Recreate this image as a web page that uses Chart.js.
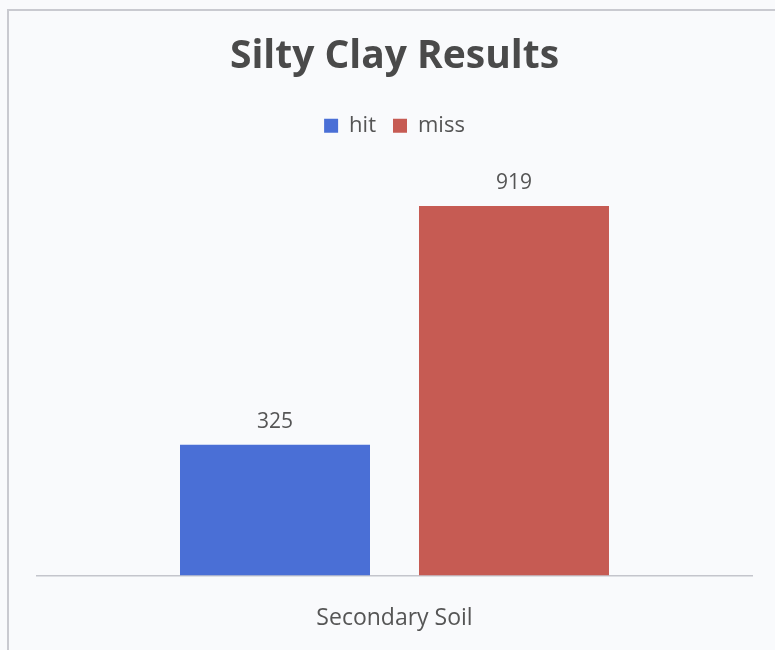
<!DOCTYPE html>
<html>
<head>
<meta charset="utf-8">
<script src="https://cdn.jsdelivr.net/npm/chart.js@4/dist/chart.umd.min.js"></script>
<style>
  html, body { margin: 0; padding: 0; background: #f9fafc; }
  #wrap { position: relative; width: 775px; height: 650px; overflow: hidden; }
  #frame { position: absolute; left: 7px; top: 9px; width: 800px; height: 700px;
           border: 2px solid #c9cad0; box-sizing: border-box; }
  canvas { position: absolute; left: 0; top: 0; }
</style>
</head>
<body>
<div id="wrap">
  <div id="frame"></div>
  <canvas id="c" width="775" height="650"></canvas>
</div>
<script>
const categories = ['Secondary Soil'];
const seriesNames = ['hit', 'miss'];
const hitValues = [325];
const missValues = [919];

const FONT = '"Open Sans", Lato, sans-serif';

// Writes each bar's value just above its top edge
const valueLabels = {
  id: 'valueLabels',
  afterDatasetsDraw(chart) {
    const ctx = chart.ctx;
    ctx.save();
    ctx.font = '21px ' + FONT;
    ctx.fillStyle = '#555555';
    ctx.textAlign = 'center';
    ctx.textBaseline = 'middle';
    chart.data.datasets.forEach((ds, i) => {
      chart.getDatasetMeta(i).data.forEach((bar, j) => {
        ctx.fillText(String(ds.data[j]), bar.x, bar.y - 23);
      });
    });
    ctx.restore();
  }
};

new Chart(document.getElementById('c'), {
  type: 'bar',
  data: {
    labels: categories,
    datasets: [
      { label: seriesNames[0], data: hitValues, backgroundColor: '#4a6fd6' },
      { label: seriesNames[1], data: missValues, backgroundColor: '#c65b53' }
    ]
  },
  options: {
    responsive: false,
    animation: false,
    layout: { padding: { left: 37, right: 23, top: 20, bottom: -11 } },
    datasets: { bar: { categoryPercentage: 0.6685, barPercentage: 0.795 } },
    plugins: {
      title: {
        display: true,
        text: 'Silty Clay Results',
        color: '#4a4a4a',
        font: { family: FONT, size: 39, weight: 'bold' },
        padding: { top: 13, bottom: 18 }
      },
      legend: {
        display: true,
        labels: {
          color: '#555555',
          font: { family: FONT, size: 22 },
          boxWidth: 14, boxHeight: 14,
          padding: 17
        }
      },
      tooltip: { enabled: false }
    },
    scales: {
      x: {
        grid: { display: false, drawTicks: false },
        border: { display: true, color: '#c4c5cc', width: 1.5 },
        ticks: { color: '#555555', font: { family: FONT, size: 23 }, padding: 29 }
      },
      y: {
        display: false,
        min: 0,
        max: 1066
      }
    }
  },
  plugins: [valueLabels]
});
</script>
</body>
</html>
